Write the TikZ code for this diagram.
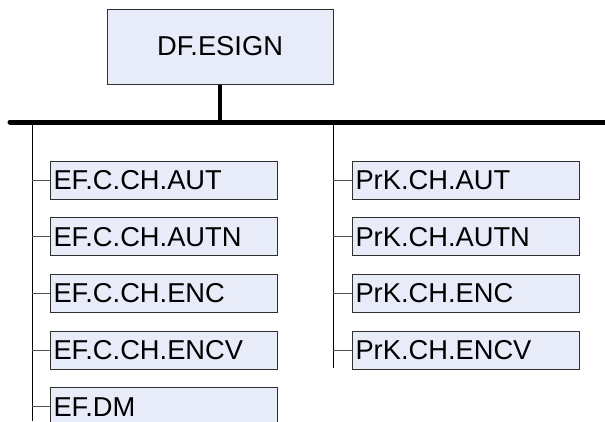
\documentclass[tikz,border=0pt]{standalone}
\usepackage{fontspec}
\setmainfont{Liberation Sans}
\definecolor{boxfill}{HTML}{E8ECF8}
\definecolor{boxline}{HTML}{303030}
\definecolor{tick}{HTML}{505050}
\begin{document}
\begin{tikzpicture}[x=1pt,y=-1pt,
  leaf/.style={draw=boxline,fill=boxfill,line width=1pt,anchor=west,
    minimum height=38pt,text width=221pt,inner xsep=3pt,inner ysep=0pt,align=left,
    font=\fontsize{27.3}{30}\selectfont},
  rootbox/.style={draw=boxline,fill=boxfill,line width=1pt,minimum width=226pt,
    minimum height=75pt,font=\fontsize{27.3}{30}\selectfont},
  thin/.style={draw=black,line width=1pt},
  tickline/.style={draw=tick,line width=1pt}]
\useasboundingbox (0,0) rectangle (605,421);
\node[rootbox] (root) at (220,46.5) {DF.ESIGN};
\coordinate (busL) at (10,122);
\coordinate (busR) at (605,122);
\coordinate (busM) at (220,122);
\draw[line width=5pt,line cap=round] (busL) -- (busR);
\draw[line width=4pt] (root.south) -- (busM);
% left column
\coordinate (lt) at (32,122);
\coordinate (lb) at (32,421);
\draw[thin] (lt) -- (lb);
\node[leaf] (l1) at (50,180) {EF.C.CH.AUT};
\node[leaf] (l2) at (50,236.7) {EF.C.CH.AUTN};
\node[leaf] (l3) at (50,293.3) {EF.C.CH.ENC};
\node[leaf] (l4) at (50,350) {EF.C.CH.ENCV};
\node[leaf] (l5) at (50,406.7) {EF.DM};
\foreach \n in {l1,l2,l3,l4,l5}
  \draw[tickline] (lt |- \n.west) -- (\n.west);
% right column
\coordinate (rt) at (333,122);
\coordinate (rb) at (333,368);
\draw[thin] (rt) -- (rb);
\node[leaf] (r1) at (352,180) {PrK.CH.AUT};
\node[leaf] (r2) at (352,236.7) {PrK.CH.AUTN};
\node[leaf] (r3) at (352,293.3) {PrK.CH.ENC};
\node[leaf] (r4) at (352,350) {PrK.CH.ENCV};
\foreach \n in {r1,r2,r3,r4}
  \draw[tickline] (rt |- \n.west) -- (\n.west);
\end{tikzpicture}
\end{document}
